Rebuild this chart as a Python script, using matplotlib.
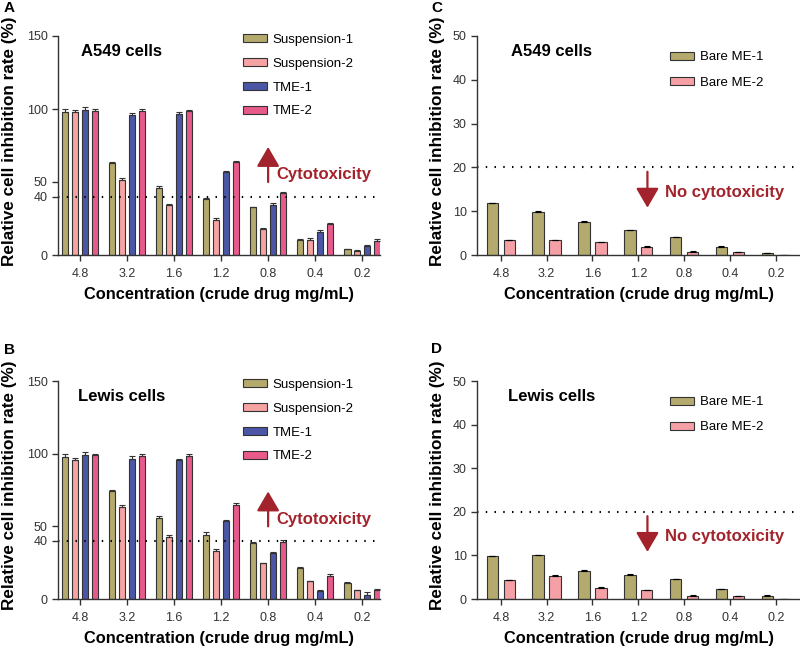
import numpy as np
import matplotlib
matplotlib.use('Agg')
import matplotlib.pyplot as plt

plt.rcParams['font.family'] = ['Liberation Sans', 'DejaVu Sans']

conc = ['4.8', '3.2', '1.6', '1.2', '0.8', '0.4', '0.2']

# Panel A - A549 cells
a_susp1 = [97.7, 62.8, 46.1, 38.1, 32.6, 10.5, 3.9]
a_susp2 = [97.7, 51.4, 34.2, 24.0, 17.8, 10.5, 3.0]
a_tme1 = [99.3, 95.7, 96.3, 56.6, 34.2, 15.8, 5.9]
a_tme2 = [98.6, 98.9, 98.6, 63.5, 42.7, 21.5, 9.4]
a_susp1_err = [2.0, 1.0, 1.5, 0.8, 0.3, 0.5, 0.3]
a_susp2_err = [1.5, 1.5, 0.5, 1.5, 0.5, 1.2, 0.3]
a_tme1_err = [2.0, 1.5, 1.5, 1.2, 1.2, 1.2, 1.2]
a_tme2_err = [1.2, 1.0, 1.0, 1.0, 0.5, 0.5, 1.5]

# Panel B - Lewis cells
b_susp1 = [98.0, 74.0, 55.6, 44.2, 38.7, 21.5, 11.0]
b_susp2 = [95.7, 63.2, 42.6, 33.2, 24.5, 12.1, 6.0]
b_tme1 = [99.4, 96.6, 95.7, 53.4, 31.6, 5.5, 3.0]
b_tme2 = [98.9, 98.5, 98.7, 64.6, 39.2, 16.0, 6.4]
b_susp1_err = [2.0, 0.8, 1.2, 2.2, 0.5, 0.5, 0.4]
b_susp2_err = [1.5, 1.2, 1.2, 1.5, 0.5, 0.5, 0.3]
b_tme1_err = [2.0, 1.8, 0.5, 1.2, 0.5, 0.5, 1.8]
b_tme2_err = [1.2, 1.0, 1.2, 1.2, 1.2, 1.2, 0.8]

# Panel C - A549 cells, bare ME
c_me1 = [11.8, 9.8, 7.5, 5.6, 4.0, 1.9, 0.4]
c_me2 = [3.35, 3.35, 2.9, 1.8, 0.75, 0.6, 0.0]

# Panel D - Lewis cells, bare ME
d_me1 = [9.8, 10.0, 6.4, 5.5, 4.5, 2.2, 0.7]
d_me2 = [4.3, 5.3, 2.6, 2.0, 0.8, 0.6, 0.0]

col_s1 = '#b5aa6e'
col_s2 = '#f5a3a3'
col_t1 = '#4b56a6'
col_t2 = '#e95a8c'
col_me2 = '#f5a0a6'
red = '#a3232c'
edge = '#333333'

W, H = 800, 647


def rect(x0, y0, x1, y1):
    # pixel box (top-left origin) -> figure fraction
    return [x0 / W, 1 - y1 / H, (x1 - x0) / W, (y1 - y0) / H]


def style_axis(ax, ylab_x):
    for s in ['top', 'right']:
        ax.spines[s].set_visible(False)
    for s in ['left', 'bottom']:
        ax.spines[s].set_color(edge)
        ax.spines[s].set_linewidth(1.0)
    ax.tick_params(axis='both', colors=edge, labelcolor='#333333',
                   labelsize=9, length=4, width=1.0, direction='out')
    ax.tick_params(axis='x', pad=5.5)
    ax.set_xticks(np.arange(len(conc)))
    ax.set_xticklabels(conc)
    ax.set_xlabel('Concentration (crude drug mg/mL)', fontsize=11.8,
                  fontweight='bold', labelpad=5)
    ax.set_ylabel('Relative cell inhibition rate (%)', fontsize=12.3,
                  fontweight='bold')
    ax.yaxis.set_label_coords(ylab_x, 0.52)


def add_legend(ax, x, y, spacing):
    ax.legend(loc='upper left', bbox_to_anchor=(x, y), frameon=False,
              fontsize=9.5, handlelength=1.8, handleheight=0.56,
              labelspacing=spacing, handletextpad=0.45, borderpad=0,
              borderaxespad=0)


def panel4(ax, s1, s2, t1, t2, errs, cell, label_x):
    x = np.arange(len(conc))
    pitch = 0.21
    w = 0.135
    series = [(s1, col_s1, 'Suspension-1'), (s2, col_s2, 'Suspension-2'),
              (t1, col_t1, 'TME-1'), (t2, col_t2, 'TME-2')]
    for i, (vals, c, lab) in enumerate(series):
        ax.bar(x + (i - 1.5) * pitch, vals, w, color=c, edgecolor=edge,
               linewidth=0.8, label=lab,
               yerr=[np.zeros(len(vals)), errs[i]],
               error_kw=dict(ecolor=edge, elinewidth=0.8, capsize=2, capthick=0.8))
    ax.set_xlim(-0.47, 6.38)
    ax.set_ylim(0, 150)
    ax.set_yticks([0, 40, 50, 100, 150])
    ax.axhline(40, color='black', lw=1.5, ls=(0, (0.7, 3.5)))
    style_axis(ax, -0.128)
    add_legend(ax, 0.574, 1.01, 0.9)
    ax.text(label_x, 0.927, cell, transform=ax.transAxes, fontsize=12,
            fontweight='bold', va='center', ha='left')
    ax.annotate('', xy=(4, 74), xytext=(4, 50),
                arrowprops=dict(arrowstyle='-|>,head_length=0.6,head_width=0.35',
                                color=red, lw=1.6, mutation_scale=20,
                                shrinkA=0, shrinkB=0))
    ax.text(4.18, 55, 'Cytotoxicity', color=red, fontsize=12,
            fontweight='bold', va='center', ha='left')


def panel2(ax, m1, m2, cell, label_x):
    x = np.arange(len(conc))
    w = 0.25
    ax.bar(x - 0.185, m1, w, color=col_s1, edgecolor=edge, linewidth=0.8,
           label='Bare ME-1', yerr=[np.zeros(len(m1)), [0.15] * len(m1)],
           error_kw=dict(ecolor='black', elinewidth=0.8, capsize=2, capthick=0.8))
    m2_err = [0.15 if v > 0 else 0 for v in m2]
    ax.bar(x + 0.185, m2, w, color=col_me2, edgecolor=edge, linewidth=0.8,
           label='Bare ME-2', yerr=[np.zeros(len(m2)), m2_err],
           error_kw=dict(ecolor='black', elinewidth=0.8, capsize=2, capthick=0.8))
    ax.set_xlim(-0.52, 6.53)
    ax.set_ylim(0, 50)
    ax.set_yticks([0, 10, 20, 30, 40, 50])
    ax.axhline(20, color='black', lw=1.5, ls=(0, (0.7, 3.5)))
    style_axis(ax, -0.099)
    add_legend(ax, 0.597, 0.93, 1.0)
    ax.text(label_x, 0.927, cell, transform=ax.transAxes, fontsize=12,
            fontweight='bold', va='center', ha='left')
    ax.annotate('', xy=(3.2, 10.8), xytext=(3.2, 19.0),
                arrowprops=dict(arrowstyle='-|>,head_length=0.6,head_width=0.35',
                                color=red, lw=1.6, mutation_scale=20,
                                shrinkA=0, shrinkB=0))
    ax.text(3.58, 14.3, 'No cytotoxicity', color=red, fontsize=12,
            fontweight='bold', va='center', ha='left')


fig = plt.figure(figsize=(W / 100, H / 100), dpi=100)
ax_a = fig.add_axes(rect(58, 36, 380, 255))
ax_b = fig.add_axes(rect(58, 381, 380, 599))
ax_c = fig.add_axes(rect(477, 36, 800, 255))
ax_d = fig.add_axes(rect(477, 381, 800, 599))

panel4(ax_a, a_susp1, a_susp2, a_tme1, a_tme2,
       [a_susp1_err, a_susp2_err, a_tme1_err, a_tme2_err], 'A549 cells', 0.071)
panel4(ax_b, b_susp1, b_susp2, b_tme1, b_tme2,
       [b_susp1_err, b_susp2_err, b_tme1_err, b_tme2_err], 'Lewis cells', 0.062)
panel2(ax_c, c_me1, c_me2, 'A549 cells', 0.105)
panel2(ax_d, d_me1, d_me2, 'Lewis cells', 0.096)

for lab, px, py in [('A', 4, 8), ('B', 4, 350), ('C', 431, 8), ('D', 431, 349)]:
    fig.text(px / W, 1 - py / H, lab, fontsize=11, fontweight='bold',
             ha='left', va='center')

fig.savefig('out.png', dpi=100)
